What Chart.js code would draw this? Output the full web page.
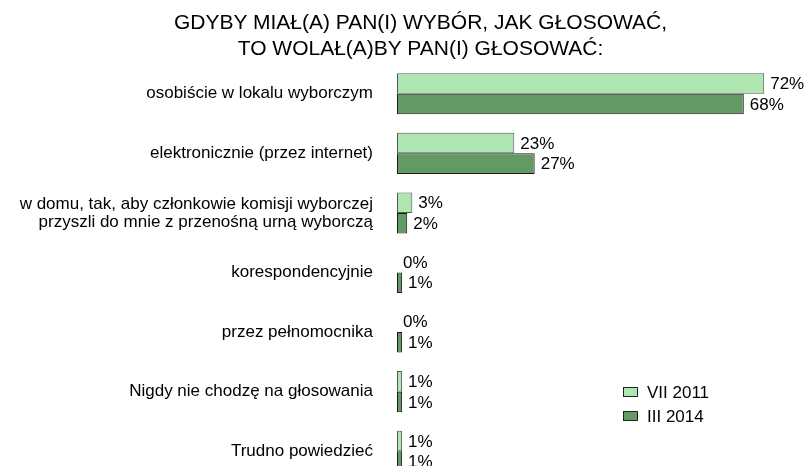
<!DOCTYPE html>
<html>
<head>
<meta charset="utf-8">
<script src="https://cdn.jsdelivr.net/npm/chart.js@4/dist/chart.umd.min.js"></script>
<style>
  html, body { margin: 0; padding: 0; background: #fff; overflow: hidden; }
  #wrap { position: relative; width: 805px; height: 481px; }
  canvas { display: block; }
  #title {
    position: absolute; top: 9px; left: 36px; width: 769px;
    text-align: center; color: #000;
    font: 21px/26px "Liberation Sans", Arial, sans-serif;
  }
</style>
</head>
<body>
<div id="wrap">
  <canvas id="votingChart" width="805" height="481"></canvas>
  <div id="title">GDYBY MIAŁ(A) PAN(I) WYBÓR, JAK GŁOSOWAĆ,<br>TO WOLAŁ(A)BY PAN(I) GŁOSOWAĆ:</div>
</div>
<script>
// Values
const categories = [
    'osobiście w lokalu wyborczym',
    'elektronicznie (przez internet)',
    ['w domu, tak, aby członkowie komisji wyborczej', 'przyszli do mnie z przenośną urną wyborczą'],
    'korespondencyjnie',
    'przez pełnomocnika',
    'Nigdy nie chodzę na głosowania',
    'Trudno powiedzieć'
];
const vii2011 = [72, 23, 3, 0, 0, 1, 1];
const iii2014 = [68, 27, 2, 1, 1, 1, 1];
const seriesNames = ['VII 2011', 'III 2014'];

const fontFamily = '"Liberation Sans", Arial, sans-serif';

// Percent labels just past the end of each bar
const valueLabels = {
    id: 'valueLabels',
    afterDatasetsDraw(chart) {
        const ctx = chart.ctx;
        ctx.save();
        ctx.font = '17px ' + fontFamily;
        ctx.fillStyle = '#000';
        ctx.textAlign = 'left';
        ctx.textBaseline = 'middle';
        chart.data.datasets.forEach((dataset, di) => {
            chart.getDatasetMeta(di).data.forEach((bar, i) => {
                ctx.fillText(dataset.data[i] + '%', bar.x + 6, bar.y + 1);
            });
        });
        ctx.restore();
    }
};

// Small legend in the lower right part of the plot
const boxLegend = {
    id: 'boxLegend',
    afterDraw(chart, args, opts) {
        const ctx = chart.ctx;
        ctx.save();
        ctx.font = '17px ' + fontFamily;
        ctx.textBaseline = 'middle';
        chart.data.datasets.forEach((dataset, i) => {
            const y = opts.y + i * opts.gap;
            ctx.fillStyle = dataset.backgroundColor;
            ctx.fillRect(opts.x, y - 5, 15, 10);
            ctx.strokeStyle = '#222';
            ctx.lineWidth = 1;
            ctx.strokeRect(opts.x + 0.5, y - 4.5, 14, 9);
            ctx.fillStyle = '#000';
            ctx.fillText(dataset.label, opts.x + 24, y + 1);
        });
        ctx.restore();
    }
};

const ctx = document.getElementById('votingChart');

new Chart(ctx, {
    type: 'bar',
    data: {
        labels: categories,
        datasets: [{
            label: seriesNames[0],
            data: vii2011,
            backgroundColor: '#ade6af',
            borderColor: '#555',
            borderWidth: 1,
            borderSkipped: false
        }, {
            label: seriesNames[1],
            data: iii2014,
            backgroundColor: '#639a63',
            borderColor: '#1a1a1a',
            borderWidth: 1,
            borderSkipped: false
        }]
    },
    options: {
        indexAxis: 'y',
        responsive: false,
        animation: false,
        layout: { padding: { left: 0, right: 0, top: 64, bottom: 0 } },
        datasets: {
            bar: { barPercentage: 1, categoryPercentage: 0.69 }
        },
        scales: {
            x: { display: false, min: 0, max: 80 },
            y: {
                grid: { display: false, drawTicks: false },
                border: { display: false },
                ticks: {
                    padding: 24,
                    color: '#000',
                    font: { family: fontFamily, size: 17, lineHeight: 1.05 }
                },
                afterFit(scale) {
                    scale.width = 397;
                    scale.paddingTop = 0;
                    scale.paddingBottom = 0;
                }
            }
        },
        plugins: {
            legend: { display: false },
            tooltip: { enabled: false },
            title: { display: false },
            boxLegend: { x: 623, y: 392, gap: 24 }
        }
    },
    plugins: [valueLabels, boxLegend]
});
</script>
</body>
</html>
